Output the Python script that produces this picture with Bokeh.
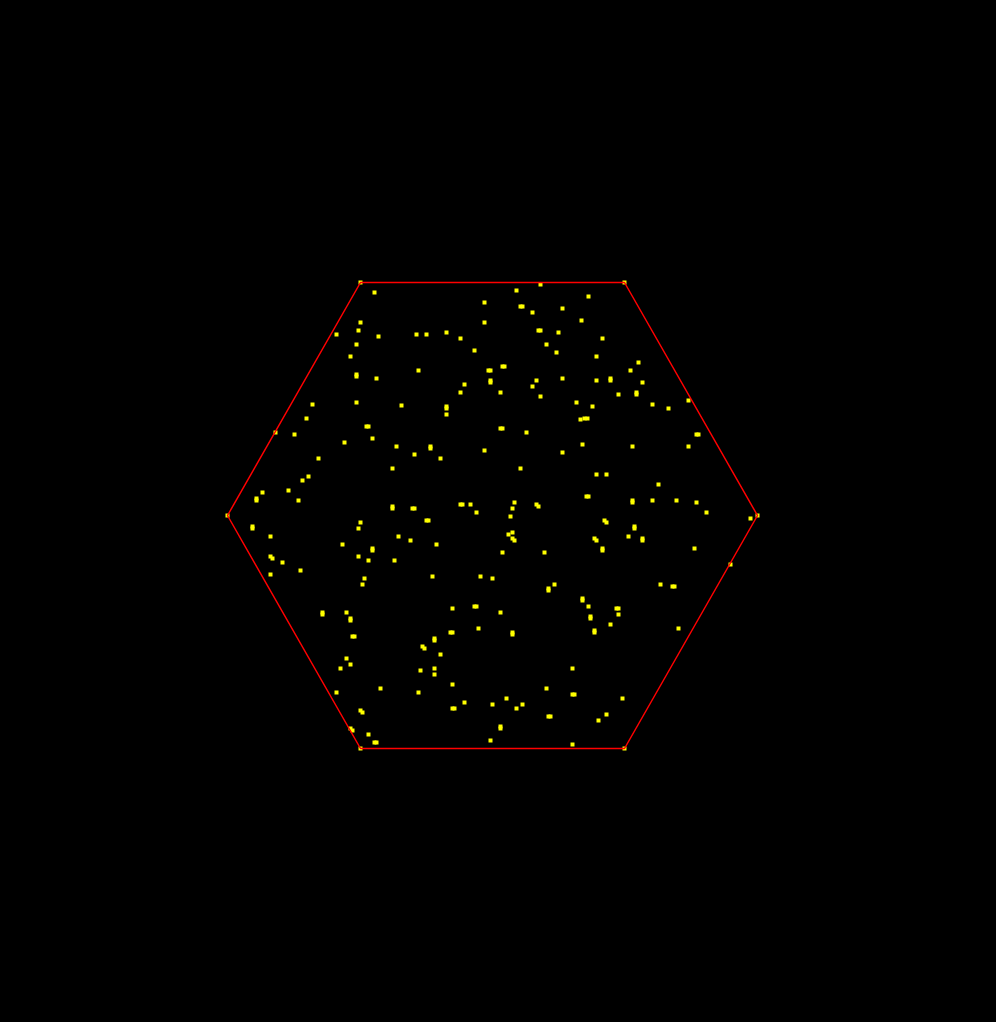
from bokeh.plotting import figure
from bokeh.models import Range1d
from bokeh.embed import file_html
from bokeh.resources import INLINE

# Hexagon vertices (data units, centre at 0,0)
hex_x = [-132, 132, 265, 132, -132, -265]
hex_y = [233, 233, 0, -233, -233, 0]

# Scattered points inside the hexagon
pts_x = [
    -118, -132, -134, -114, -156, -136, -142, -136, -136, -116, -180, -136, -91, -186, -126, -124, -217, -198,
    48, 24, -8, 28, 30, 40, 70, 89, -8, -76, -66, -46, 46, 48, 66, -32, 54, -18, 64, -74, -4, -2, 10, 12,
    -28, -2, -2, -32, 8, 44, 40, 70, 48, 84, -46, -46, -46, 88, 92, 95, 8, 10, 34,
    96, 110, 104, 146, 138, 104, 118, 118, 150, 126, 144, 144, 160, 176, 196, 100, 204, 206,
    -148, -120, -96, -174, -100, -184, -190, -204, -230, -236, -236, -194, -100, -100, -240, -240, -132, -134,
    -222, -94, -150, -120, -120, -222, -220, -134, -124, -98, -210, -192, -222, -128, -130,
    -62, -62, -78, -52, -8, 70, 90, 28, -80, -78, -32, -30, -22, 22, 44, 46, 20, -16, 18, -66, -64,
    20, 16, 20, 22, -82, -56, 10, 52, -60, -12, 0, 62, 56, 56,
    140, 196, 104, 114, 166, 94, 96, 140, 140, 160, 184, 204, 214, 258, 112, 114, 142, 142, 136, 102, 104,
    150, 150, 110, 110, 202, 238, 168, 180, 182,
    -170, -170, -146, -142, -142, -140, -138, -146, -152, -142, -112, -156, -132, -130, -142, -140, -124, -118, -116,
    90, 90, -40, -18, -16, 8, -42, -40, -14, 20, 20, -58, -58, -70, -68, -52, -72, -58, -58, -40, -74, -28,
    -40, -38, 0, 14, 24, 30, 54, 80, 80, 82, 56, 58, 8, 8, -2, 80,
    96, 124, 126, 126, 98, 98, 118, 102, 102, 186, 130, 114, 106,
]
pts_y = [
    223, 193, 185, 179, 181, 171, 159, 141, 139, 137, 111, 113, 110, 97, 89, 89, 83, 81,
    231, 225, 213, 209, 209, 203, 207, 195, 193, 181, 181, 183, 185, 185, 183, 177, 171, 165, 163, 145, 145, 145, 149, 149,
    131, 135, 133, 123, 123, 135, 129, 137, 119, 113, 109, 107, 101, 96, 97, 97, 87, 87, 83,
    219, 177, 159, 153, 145, 135, 137, 135, 133, 121, 123, 121, 111, 107, 115, 109, 81, 81,
    73, 77, 69, 57, 47, 39, 35, 25, 23, 17, 15, 15, 9, 7, -11, -13, -7, -13,
    -21, -21, -29, -33, -35, -41, -43, -41, -45, -45, -47, -55, -59, -63, -69,
    69, 67, 61, 57, 65, 63, 71, 47, 7, 7, 11, 11, 11, 13, 11, 9, 7, 3, -1, -5, -5,
    -17, -19, -23, -25, -25, -29, -37, -37, -61, -61, -63, -69, -73, -75,
    69, 69, 41, 41, 31, 19, 19, 15, 13, 15, 15, 13, 3, -3, -5, -7, -11, -13, -21, -23, -25,
    -23, -25, -33, -35, -33, -49, -69, -71, -71,
    -97, -99, -97, -103, -105, -121, -121, -143, -153, -149, -173, -177, -195, -197, -213, -215, -219, -227, -227,
    -83, -85, -93, -91, -91, -97, -117, -117, -113, -117, -119, -123, -125, -131, -133, -139, -155, -153, -159, -169, -177, -187,
    -193, -193, -189, -183, -193, -189, -173, -153, -179, -179, -201, -201, -211, -213, -225, -229,
    -91, -93, -93, -99, -101, -103, -109, -115, -117, -113, -183, -199, -205,
]

p = figure(width=996, height=1022, output_backend="svg", toolbar_location=None,
           x_range=Range1d(-492, 504), y_range=Range1d(-507, 515),
           background_fill_color="black", border_fill_color="black",
           min_border=0, outline_line_color=None)
p.styles = {"background-color": "black"}
p.axis.visible = False
p.grid.visible = False

# vertex markers
p.scatter(hex_x, hex_y, marker="square", size=4, fill_color="#ffff00", line_color=None)
# points
p.scatter(pts_x, pts_y, marker="square", size=4, fill_color="#ffff00", line_color=None)
# hexagon outline
p.patch(hex_x, hex_y, fill_color=None, line_color="#ff0000", line_width=1.5)

html = file_html(p, INLINE)
html = html.replace("<head>", "<head><style>html,body{margin:0;padding:0;background:#000;}</style>", 1)
open("out.html", "w").write(html)
